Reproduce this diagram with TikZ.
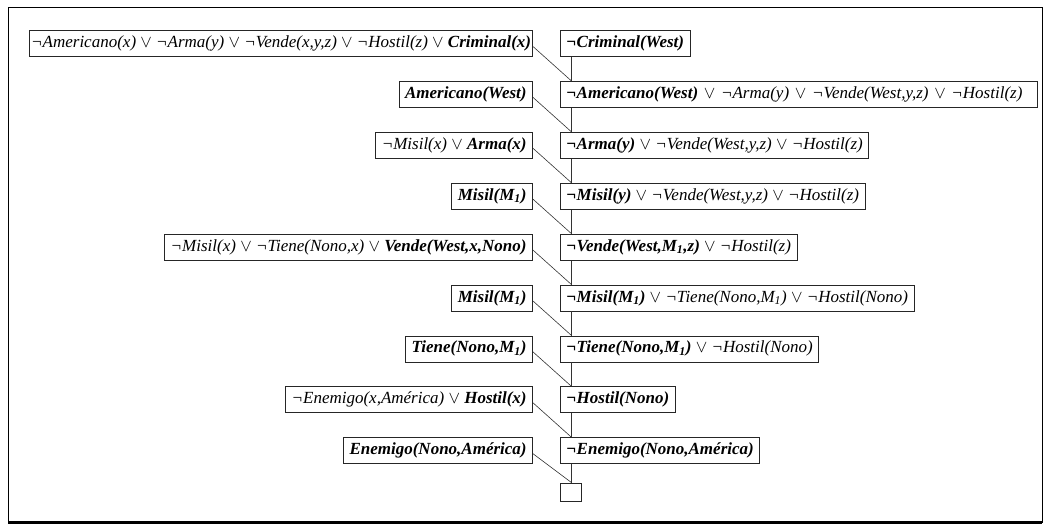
\documentclass[tikz,border=0pt]{standalone}
\usepackage{fontspec}
\setmainfont{Liberation Serif}
\usetikzlibrary{calc}
\newcommand{\orr}{ $\vee$ }
\tikzset{
  clause/.style={draw=black!85, line width=0.8pt, minimum height=26pt, inner xsep=6pt, inner ysep=0pt,
    font=\fontsize{17}{19}\selectfont\itshape},
  lclause/.style={clause, anchor=east},
  rclause/.style={clause, anchor=west},
  link/.style={draw=black!80, line width=0.6pt},
  frame/.style={draw=black, line width=1pt}
}
\begin{document}
\begin{tikzpicture}[x=1pt,y=-1pt]
\useasboundingbox (0,0) rectangle (1051,525);
% frame
\draw[frame] (8,7.5) -- (1042,7.5) -- (1042,522) -- (8,522) -- cycle;
\draw[draw=black, line width=3pt] (8,522.5) -- (1042,522.5);

% left clauses
\node[lclause, inner xsep=1.5pt] (L1) at (533,43.5) {¬Americano(x)\orr¬Arma(y)\orr¬Vende(x,y,z)\orr¬Hostil(z)\orr\textbf{Criminal(x)}};
\node[lclause] (L2) at (533,94.4) {\textbf{Americano(West)}};
\node[lclause] (L3) at (533,145.3) {¬Misil(x)\orr\textbf{Arma(x)}};
\node[lclause] (L4) at (533,196.2) {\textbf{Misil(M\textsubscript{1})}};
\node[lclause] (L5) at (533,247.1) {¬Misil(x)\orr¬Tiene(Nono,x)\orr\textbf{Vende(West,x,Nono)}};
\node[lclause] (L6) at (533,298) {\textbf{Misil(M\textsubscript{1})}};
\node[lclause] (L7) at (533,348.9) {\textbf{Tiene(Nono,M\textsubscript{1})}};
\node[lclause] (L8) at (533,399.8) {¬Enemigo(x,América)\orr\textbf{Hostil(x)}};
\node[lclause] (L9) at (533,450.7) {\textbf{Enemigo(Nono,América)}};

% right clauses
\node[rclause] (R1) at (560,43.5) {\textbf{¬Criminal(West)}};
\node[rclause, text width=465pt, align=left] (R2) at (560,94.4) {\textbf{¬Americano(West)}\orr¬Arma(y)\orr¬Vende(West,y,z)\orr¬Hostil(z)};
\node[rclause] (R3) at (560,145.3) {\textbf{¬Arma(y)}\orr¬Vende(West,y,z)\orr¬Hostil(z)};
\node[rclause] (R4) at (560,196.2) {\textbf{¬Misil(y)}\orr¬Vende(West,y,z)\orr¬Hostil(z)};
\node[rclause] (R5) at (560,247.1) {\textbf{¬Vende(West,M\textsubscript{1},z)}\orr¬Hostil(z)};
\node[rclause] (R6) at (560,298) {\textbf{¬Misil(M\textsubscript{1})}\orr¬Tiene(Nono,M\textsubscript{1})\orr¬Hostil(Nono)};
\node[rclause] (R7) at (560,348.9) {\textbf{¬Tiene(Nono,M\textsubscript{1})}\orr¬Hostil(Nono)};
\node[rclause] (R8) at (560,399.8) {\textbf{¬Hostil(Nono)}};
\node[rclause] (R9) at (560,450.7) {\textbf{¬Enemigo(Nono,América)}};
\node[draw=black!85, line width=0.8pt, anchor=west, minimum width=21pt, minimum height=18pt, inner sep=0pt] (R10) at (560,492) {};

% junctions
\foreach \i in {2,...,10}{
  \coordinate (J\i) at ($(R\i.north west)+(11.5,0)$);
}
\foreach \i [evaluate=\i as \n using int(\i+1)] in {1,...,9}{
  \draw[link] (R\i.south -| J\n) -- (J\n);
  \draw[link] ([yshift=-3pt]L\i.east) -- (J\n);
}
\end{tikzpicture}
\end{document}
